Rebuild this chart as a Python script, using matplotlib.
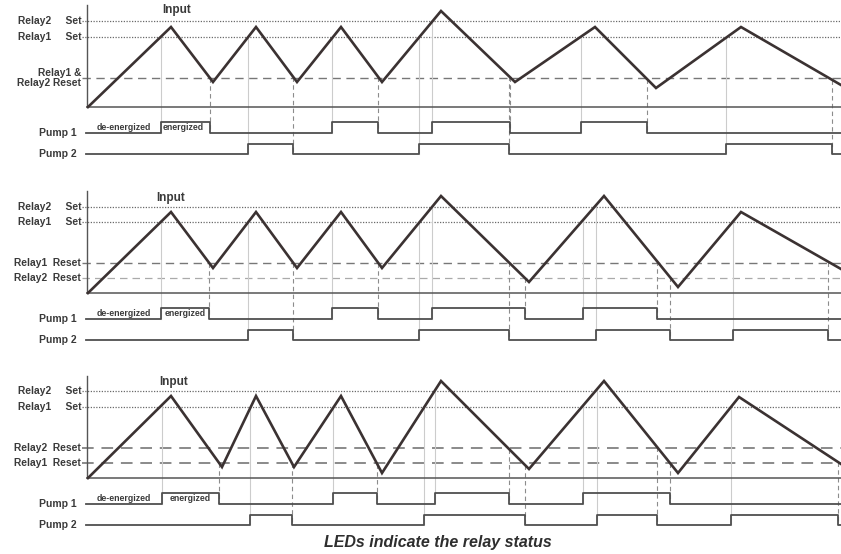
import matplotlib.pyplot as plt
import numpy as np

# input signal: vertex times and levels (level 0 = baseline)
p1_t = [0, 83, 125, 168, 209, 253, 294, 353, 427, 507, 568, 653, 753]
p1_v = [0, 80, 25, 80, 25, 80, 25, 96, 25, 80, 19, 80, 22]
p2_t = [0, 83, 125, 168, 209, 253, 294, 353, 441, 516, 590, 653, 753]
p2_v = [0, 81, 25, 81, 25, 81, 25, 97, 11, 97, 6, 81, 24]
p3_t = [0, 83, 134, 168, 206, 253, 294, 353, 441, 516, 590, 651, 753]
p3_v = [0, 82, 11, 82, 11, 82, 5, 97, 9, 97, 5, 81, 14]

# pump switching times (rise, fall, rise, fall ...)
p1_pump1 = [73, 122, 244, 290, 344, 422, 493, 559]
p1_pump2 = [160, 205, 331, 421, 638, 744]
p2_pump1 = [73, 121, 244, 290, 344, 437, 495, 569]
p2_pump2 = [160, 205, 331, 421, 508, 582, 645, 740]
p3_pump1 = [74, 131, 245, 289, 347, 421, 495, 582]
p3_pump2 = [162, 204, 336, 437, 509, 569, 643, 750]

# thresholds: (label, level, kind)
p1_thr = [("Relay2     Set", 86, "set"), ("Relay1     Set", 70, "set"),
          ("Relay1 &\nRelay2 Reset", 29, "reset")]
p2_thr = [("Relay2     Set", 86, "set"), ("Relay1     Set", 71, "set"),
          ("Relay1  Reset", 30, "reset"), ("Relay2  Reset", 15, "reset2")]
p3_thr = [("Relay2     Set", 87, "set"), ("Relay1     Set", 71, "set"),
          ("Relay2  Reset", 30, "reset3"), ("Relay1  Reset", 15, "reset3")]

energized_pos = [75, 77, 82]
input_label_pos = [(89, 97), (83, 95), (86, 96)]

panels = [(p1_t, p1_v, p1_pump1, p1_pump2, p1_thr),
          (p2_t, p2_v, p2_pump1, p2_pump2, p2_thr),
          (p3_t, p3_v, p3_pump1, p3_pump2, p3_thr)]

PUMP1 = (-26, -15)
PUMP2 = (-47, -37)
T_END = 753

W, H = 841, 554
fig = plt.figure(figsize=(W / 100, H / 100), dpi=100)
fig.patch.set_facecolor('white')

baselines = [107, 293, 478]
thr_style = {
    "set": dict(color='#6a6a6a', lw=0.9, ls=(0, (1, 1.2))),
    "reset": dict(color='#777777', lw=1.0, ls=(0, (6, 4))),
    "reset2": dict(color='#aaaaaa', lw=0.9, ls=(0, (6, 4))),
    "reset3": dict(color='#8a8a8a', lw=1.4, ls=(0, (6, 4))),
}
font = dict(family='Liberation Sans', fontweight='bold', color='#3a3a3a')


def pulse(times, low, high):
    xs, ys = [-2], [low]
    state = low
    for t in times:
        xs += [t, t]
        ys += [state, high if state == low else low]
        state = ys[-1]
    xs.append(T_END)
    ys.append(state)
    return xs, ys


for i, (tt, vv, pu1, pu2, thr) in enumerate(panels):
    yb = baselines[i]
    ax = fig.add_axes([0, 1 - (yb + 55) / H, 1, 162 / H])
    ax.set_xlim(-88, W - 88)
    ax.set_ylim(-55, 107)
    ax.axis('off')
    ax.patch.set_alpha(0)

    # threshold lines and labels
    for label, lvl, kind in thr:
        ax.plot([-6, T_END], [lvl, lvl], **thr_style[kind], zorder=1)
        ax.text(-7, lvl, label, ha='right', va='center', fontsize=7.4,
                linespacing=1.1, **font)

    # guide lines from input to pump transitions
    for pump, (low, high) in ((pu1, PUMP1), (pu2, PUMP2)):
        for k, t in enumerate(pump):
            top = np.interp(t, tt, vv)
            if k % 2 == 0:
                ax.plot([t, t], [top, low], color='#cccccc', lw=0.8, zorder=1)
            else:
                ax.plot([t, t], [top, low], color='#8c8c8c', lw=0.8,
                        ls=(0, (4, 3)), zorder=1)

    # axes
    ax.plot([-1, -1], [0, 102], color='#555555', lw=1.0, zorder=2)
    ax.plot([-1, T_END], [0, 0], color='#555555', lw=1.1, zorder=2)

    # input
    ax.plot(tt, vv, color='#3b3232', lw=1.9, solid_joinstyle='miter', zorder=3)
    lx, ly = input_label_pos[i]
    ax.text(lx, ly, "Input", ha='center', va='center', fontsize=8.5, **font)

    # pumps
    for name, pump, (low, high) in (("Pump 1", pu1, PUMP1), ("Pump 2", pu2, PUMP2)):
        xs, ys = pulse(pump, low, high)
        ax.plot(xs, ys, color='#4f4f4f', lw=1.3, zorder=3)
        ax.text(-11, low, name, ha='right', va='center', fontsize=7.5, **font)

    ax.text(9, -20.5, "de-energized", ha='left', va='center', fontsize=6.3, **font)
    ax.text(energized_pos[i], -20.5, "energized", ha='left', va='center',
            fontsize=6.3, **font)

fig.text(438 / W, 1 - 542 / H, "LEDs indicate the relay status", ha='center',
         va='center', fontsize=11.5, fontweight='bold', style='italic',
         family='Liberation Sans', color='#2e2e2e')

fig.savefig('out.png', dpi=100, facecolor='white')
